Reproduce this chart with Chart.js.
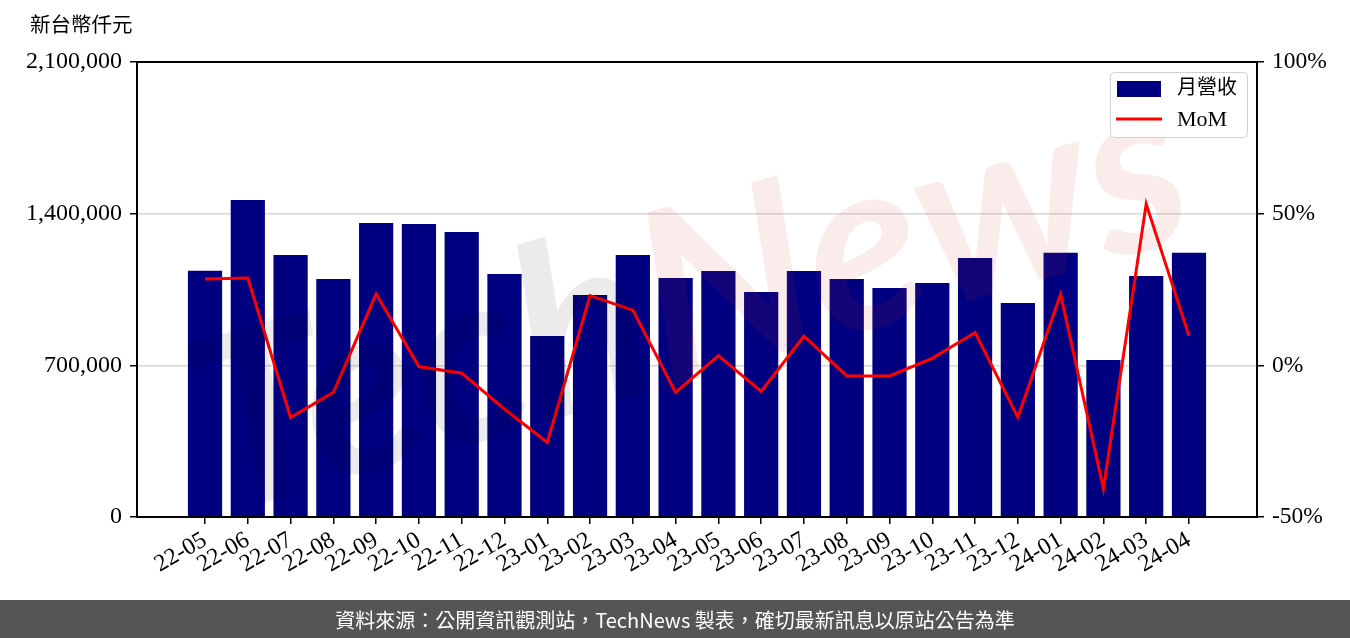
<!DOCTYPE html>
<html>
<head>
<meta charset="utf-8">
<script src="https://cdn.jsdelivr.net/npm/chart.js@4.4.1/dist/chart.umd.min.js"></script>
<style>
html,body{margin:0;padding:0;background:#fff;}
#wrap{width:1350px;height:638px;position:relative;}
</style>
</head>
<body>
<div id="wrap"><canvas id="c" width="1350" height="638"></canvas></div>
<script>
const categories = ['22-05','22-06','22-07','22-08','22-09','22-10','22-11','22-12','23-01','23-02','23-03','23-04','23-05','23-06','23-07','23-08','23-09','23-10','23-11','23-12','24-01','24-02','24-03','24-04'];
const revenue = [1137000,1463000,1209000,1098000,1357000,1352000,1315000,1121000,835000,1025000,1209000,1103000,1135000,1038000,1135000,1098000,1057000,1080000,1195000,988000,1220000,725000,1112000,1220000];
const mom = [28.5,28.8,-17.2,-8.9,23.5,-0.4,-2.6,-14.4,-25.4,23.0,18.2,-8.9,3.2,-8.6,9.6,-3.5,-3.5,2.3,10.8,-17.1,23.4,-40.6,53.2,9.7];
const leftTicks = [0,700000,1400000,2100000];
const rightTicks = [-50,0,50,100];
const unitLabel = '新台幣仟元';
const seriesNames = ['月營收','MoM'];
const footerText = '資料來源：公開資訊觀測站，TechNews 製表，確切最新訊息以原站公告為準';
const watermark = ['Tech','News'];

const SERIF = "'Liberation Serif', 'Noto Sans CJK TC', serif";
const SANS = "'Noto Sans CJK TC', 'Noto Sans', sans-serif";

const decor = {
  id:'decor',
  beforeDraw(chart){
    const ctx = chart.ctx;
    ctx.save();
    ctx.fillStyle='#fff';
    ctx.fillRect(0,0,chart.width,chart.height);
    ctx.restore();
  },
  afterDatasetsDraw(chart){
    const ctx = chart.ctx;
    ctx.save();
    ctx.translate(690, 300);
    ctx.rotate(-16*Math.PI/180);
    ctx.font = "bold italic 240px Lato, 'DejaVu Sans', sans-serif";
    ctx.textBaseline='middle';
    const w1 = ctx.measureText(watermark[0]).width, w2 = ctx.measureText(watermark[1]).width;
    const x0 = -(w1+w2)/2;
    ctx.textAlign='left';
    ctx.fillStyle='rgba(0,0,0,0.08)';
    ctx.fillText(watermark[0], x0, 0);
    ctx.fillStyle='rgba(215,40,40,0.09)';
    ctx.fillText(watermark[1], x0+w1, 0);
    ctx.restore();
  },
  afterDraw(chart){
    const ctx = chart.ctx, a = chart.chartArea;
    ctx.save();
    // frame
    ctx.strokeStyle='#000'; ctx.lineWidth=2;
    ctx.strokeRect(a.left, a.top, a.right-a.left, a.bottom-a.top);
    // unit label
    ctx.fillStyle='#000'; ctx.font='20.5px '+SERIF; ctx.textBaseline='middle'; ctx.textAlign='left';
    ctx.fillText(unitLabel, 30, 27);
    // legend
    const lx = a.right-147, ly = a.top+10, lw = 137, lh = 65;
    ctx.fillStyle='rgba(255,255,255,0.85)'; ctx.strokeStyle='#d0d0d0'; ctx.lineWidth=1;
    ctx.beginPath();
    if (ctx.roundRect) ctx.roundRect(lx+0.5, ly+0.5, lw, lh, 4); else ctx.rect(lx+0.5, ly+0.5, lw, lh);
    ctx.fill(); ctx.stroke();
    const ds = chart.data.datasets;
    ctx.fillStyle = ds[0].backgroundColor;
    ctx.fillRect(lx+7, ly+9, 44, 16);
    ctx.strokeStyle = ds[1].borderColor; ctx.lineWidth=3;
    ctx.beginPath(); ctx.moveTo(lx+6, ly+47); ctx.lineTo(lx+52, ly+47); ctx.stroke();
    ctx.fillStyle='#000'; ctx.textAlign='left'; ctx.textBaseline='middle';
    ctx.font='20px '+SERIF;
    ctx.fillText(ds[0].label, lx+67, ly+17);
    ctx.font='22px '+SERIF;
    ctx.fillText(ds[1].label, lx+67, ly+48);
    // footer
    ctx.fillStyle='#555555';
    ctx.fillRect(0, 600, chart.width, 38);
    ctx.fillStyle='#fff'; ctx.font='20px '+SANS; ctx.textAlign='center'; ctx.textBaseline='middle';
    ctx.fillText(footerText, chart.width/2, 620);
    ctx.restore();
  }
};

new Chart(document.getElementById('c'), {
  data:{
    datasets:[
      {type:'bar', label:seriesNames[0], data:revenue.map((v,i)=>({x:i,y:v})), backgroundColor:'#000080', yAxisID:'y', xAxisID:'x', barPercentage:0.8, categoryPercentage:1.0, order:2},
      {type:'line', label:seriesNames[1], data:mom.map((v,i)=>({x:i,y:v})), borderColor:'#ff0000', borderWidth:3, pointRadius:0, tension:0, yAxisID:'y2', xAxisID:'x', order:1}
    ]
  },
  options:{
    responsive:false, animation:false,
    layout:{padding:{top:62,left:0,right:0,bottom:0}},
    plugins:{legend:{display:false}, tooltip:{enabled:false}},
    scales:{
      x:{
        type:'linear', min:-1.59, max:24.59, offset:false,
        afterBuildTicks(s){ s.ticks = categories.map((c,i)=>({value:i})); },
        afterFit(s){ s.height = 121; },
        ticks:{autoSkip:false, minRotation:30, maxRotation:30, padding:2, color:'#000', font:{family:SERIF,size:24},
          callback:(v)=>categories[v]},
        grid:{offset:false, drawOnChartArea:false, drawTicks:true, tickLength:7, tickColor:'#000', lineWidth:1.5},
        border:{display:false}
      },
      y:{
        position:'left', min:0, max:2100000,
        afterBuildTicks(s){ s.ticks = leftTicks.map(v=>({value:v})); },
        afterFit(s){ s.width = 137; },
        ticks:{padding:8, color:'#000', font:{family:SERIF,size:24}, callback:(v)=>v.toLocaleString('en-US')},
        grid:{tickLength:7, tickColor:'#000', lineWidth:1.5, color:(c)=> (c.tick && c.tick.value>0 && c.tick.value<2100000) ? '#d8d8d8' : 'rgba(0,0,0,0)'},
        border:{display:false}
      },
      y2:{
        position:'right', min:-50, max:100,
        afterBuildTicks(s){ s.ticks = rightTicks.map(v=>({value:v})); },
        afterFit(s){ s.width = 93; },
        ticks:{padding:8, color:'#000', font:{family:SERIF,size:23.5}, callback:(v)=>v+'%'},
        grid:{drawOnChartArea:false, tickLength:7, tickColor:'#000', lineWidth:1.5},
        border:{display:false}
      }
    }
  },
  plugins:[decor]
});
</script>
</body>
</html>
